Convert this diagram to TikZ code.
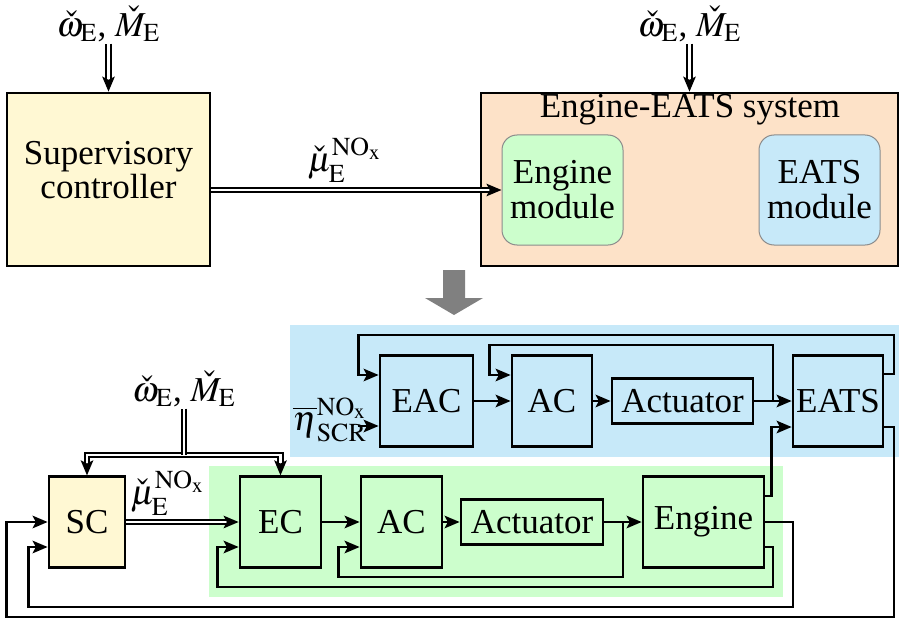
\documentclass[tikz,border=0pt]{standalone}
\usepackage{mathptmx}
\usepackage[no-math]{fontspec}
\setmainfont{Liberation Serif}
\usetikzlibrary{calc, arrows.meta}

\definecolor{scyellow}{HTML}{FFF8D3}
\definecolor{syspeach}{HTML}{FDE2C8}
\definecolor{enggreen}{HTML}{CCFECC}
\definecolor{eatsblue}{HTML}{C7E9F9}

\tikzset{
  blk/.style={draw, line width=1.1pt, inner sep=0pt, minimum height=36.2pt},
  modbox/.style={draw=black!45, rounded corners=6pt, inner sep=0pt, minimum width=48.4pt,
    minimum height=44pt, align=center, font=\fontsize{14}{14}\selectfont},
  lbl/.style={inner sep=0.5pt},
  sig/.style={line width=1pt, ->},
  dbl/.style={double, line width=0.8pt, double distance=1pt, ->},
}

\begin{document}
\begin{tikzpicture}[x=0.4pt, y=-0.4pt, >={Stealth[length=6pt, width=5pt, inset=1.3pt]},
    font=\fontsize{14}{16}\selectfont]
\useasboundingbox (0,0) rectangle (899,619);

% top: supervisory controller driving the engine-EATS system
\node[blk, fill=scyellow, minimum width=81.2pt, minimum height=69.2pt] (sup) at (108.5,179.5) {};
\node[align=center, font=\fontsize{14}{11.2}\selectfont] (suptxt) at (108.5,170) {Supervisory\\controller};
\node[blk, fill=syspeach, minimum width=166.8pt, minimum height=69.2pt] (sys) at (689.5,179.5) {};
\node (systxt) at (690,110) {Engine-EATS system};
\node[modbox, fill=enggreen] (engmod) at (562.5,190) {Engine\\module};
\node[modbox, fill=eatsblue] (eatsmod) at (819.5,190) {EATS\\module};

\node[lbl] (optop1) at (108.5,24) {$\check{\omega}_\mathrm{E}$, $\check{M}_\mathrm{E}$};
\node[lbl] (optop2) at (689.5,24) {$\check{\omega}_\mathrm{E}$, $\check{M}_\mathrm{E}$};
\node[lbl] (mutop) at (345,160) {$\check{\mu}_\mathrm{E}^{\mathrm{NO}_\mathrm{x}}$};
\draw[dbl] (optop1) -- (sup);
\draw[dbl] (optop2) -- (sys);
\draw[dbl] (engmod.west -| sup.east) -- (engmod.west);

\fill[black!50] (443,270) -- (465,270) -- (465,298) -- (483,298) -- (454,315)
  -- (425,298) -- (443,298) -- cycle;

% bottom: EATS loop (blue) and engine loop (green)
\fill[eatsblue] (290,325) rectangle (899,457);
\fill[enggreen] (209,466) rectangle (783,597);

\node[blk, fill=eatsblue, minimum width=37.2pt] (eac) at (426.5,401) {EAC};
\node[blk, fill=eatsblue, minimum width=32pt] (acb) at (552,401) {AC};
\node[blk, fill=eatsblue, minimum width=56.4pt, minimum height=18pt] (actb) at (682.5,401) {Actuator};
\node[blk, fill=eatsblue, minimum width=36pt] (eats) at (838,401) {EATS};

\node[blk, fill=scyellow, minimum width=30.4pt] (sc) at (87,522) {SC};
\node[blk, fill=enggreen, minimum width=32.4pt] (ec) at (280.5,522) {EC};
\node[blk, fill=enggreen, minimum width=32.4pt] (acg) at (401.5,522) {AC};
\node[blk, fill=enggreen, minimum width=56.8pt, minimum height=18pt] (actg) at (532,522) {Actuator};
\node[blk, fill=enggreen, minimum width=48.4pt] (engine) at (703.5,522) {Engine};

\node[lbl] (eta) at (330,420) {$\overline{\eta}_\mathrm{SCR}^{\mathrm{NO}_\mathrm{x}}$};
\node[lbl] (opbot) at (184,389) {$\check{\omega}_\mathrm{E}$, $\check{M}_\mathrm{E}$};
\node[lbl] (mubot) at (168,493) {$\check{\mu}_\mathrm{E}^{\mathrm{NO}_\mathrm{x}}$};

\coordinate (etain) at (358,426);
\coordinate (tapb) at (773,401);
\coordinate (tapg) at (623,522);
\coordinate (split) at (184,455);

% EATS side
\draw[sig] (etain) -- (etain -| eac.west);
\draw[sig] (eac) -- (acb);
\draw[sig] (acb) -- (actb);
\draw[sig] (actb) -- (eats);
\draw[sig] (tapb) |- ($(acb.west)+(-21,-56)$) |- ($(acb.west)+(0,-26)$);
\draw[sig] ($(eats.east)+(0,-27)$) -| (894,335) -| ($(eac.west)+(-20,-26)$) -- ($(eac.west)+(0,-26)$);
\draw[sig] ($(eats.east)+(0,26)$) -| (894,617) -| ($(sc.west)+(-41,0)$) -- (sc.west);

% engine side
\draw[dbl, <->] (sc) |- (split) -| (ec);
\draw[dbl, -] (opbot) -- (split);
\draw[dbl] (sc) -- (ec);
\draw[sig] (ec) -- (acg);
\draw[sig] (acg) -- (actg);
\draw[sig] (actg) -- (engine);
\draw[sig] (tapg) |- ($(acg.west)+(-21,55)$) |- ($(acg.west)+(0,25)$);
\draw[sig] ($(engine.east)+(0,-26)$) -| ($(eats.west)+(-20,26)$) -- ($(eats.west)+(0,26)$);
\draw[sig] ($(engine.east)+(0,25)$) -| (773,587) -| ($(ec.west)+(-21,25)$) -- ($(ec.west)+(0,25)$);
\draw[sig] (engine.east) -| (793,607) -| ($(sc.west)+(-19,25)$) -- ($(sc.west)+(0,25)$);
\end{tikzpicture}
\end{document}
